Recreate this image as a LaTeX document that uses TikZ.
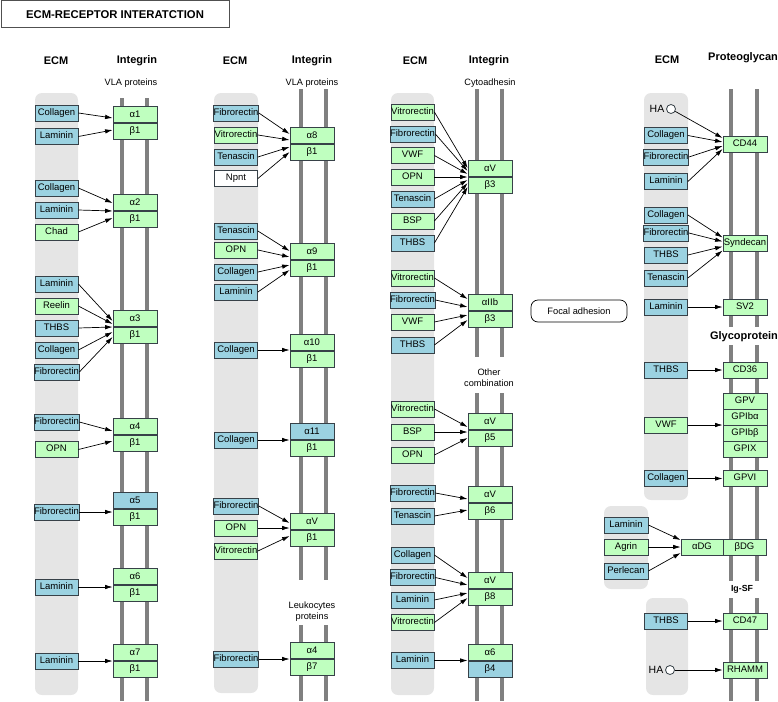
\documentclass[tikz,border=0pt]{standalone}
\usepackage{fontspec}
\setmainfont{Liberation Sans}
\usetikzlibrary{arrows.meta,calc}
\definecolor{kblue}{RGB}{155,210,225}
\definecolor{kgreen}{RGB}{191,255,191}
\definecolor{kborder}{RGB}{55,65,72}
\definecolor{kmem}{RGB}{128,128,128}
\definecolor{kbg}{RGB}{229,229,229}
\newcommand\kLig[5]{\node[lig,#2] (#1) at (#3,#4) {#5};}
\newcommand\kPair[7]{%
  \node[ibox,#6,anchor=south] (#1a) at (#2,#3) {#4};
  \node[ibox,#7,anchor=north] (#1b) at (#2,#3) {#5};}
\newcommand\kCon[3]{\draw[arr] (#1.east) -- ([yshift=#3pt]#2.south west);}
\newcommand\kConW[3]{\draw[arr] (#1.east) -- ([yshift=#3pt]#2.west);}
\newcommand\kH[2]{\draw[arr] (#1.east) -- (#1.east -| #2.west);}
\begin{document}
\begin{tikzpicture}[x=1pt,y=-1pt,
  lig/.style={draw=kborder,line width=0.8pt,minimum width=43pt,minimum height=16pt,
    inner sep=0pt,font=\fontsize{9.5}{10}\selectfont,text height=6.8pt,text depth=1.9pt},
  ibox/.style={lig,minimum width=44pt},
  bl/.style={fill=kblue}, gr/.style={fill=kgreen}, wh/.style={fill=white},
  arr/.style={-{Latex[length=7.5pt,width=4.5pt]},line width=0.7pt,black},
  mem/.style={draw=kmem,line width=4pt},
  bgr/.style={fill=kbg,rounded corners=7pt},
  hdr/.style={font=\bfseries\fontsize{11}{12}\selectfont},
  sub/.style={font=\fontsize{9.2}{10.5}\selectfont,align=center}]
\useasboundingbox (0,0) rectangle (778,701);
% title
\node[draw={rgb,255:red,80;green,80;blue,80},line width=1pt,minimum width=228pt,minimum height=26.5pt,
  anchor=north west,font=\bfseries\fontsize{11.3}{13}\selectfont,inner sep=0pt] (title) at (0.5,0.5) {ECM-RECEPTOR INTERATCTION};
% backgrounds
\fill[bgr] (35,93) rectangle (78,695);
\fill[bgr] (214,93) rectangle (258,693);
\fill[bgr] (391,93) rectangle (434,695);
\fill[bgr] (644,93) rectangle (688,500);
\fill[bgr] (604,506) rectangle (648,589);
\fill[bgr] (646,598) rectangle (688,695);
% membranes
\draw[mem] (122,98) -- (122,701); \draw[mem] (147,98) -- (147,701);
\draw[mem] (301,89) -- (301,580); \draw[mem] (326,89) -- (326,580);
\draw[mem] (301,625) -- (301,701); \draw[mem] (326,625) -- (326,701);
\draw[mem] (477,89) -- (477,357); \draw[mem] (502,89) -- (502,357);
\draw[mem] (477,393) -- (477,701); \draw[mem] (502,393) -- (502,701);
\draw[mem] (731,89) -- (731,327); \draw[mem] (757,89) -- (757,327);
\draw[mem] (731,345) -- (731,581); \draw[mem] (757,345) -- (757,581);
\draw[mem] (731,598) -- (731,701); \draw[mem] (757,598) -- (757,701);
% headers
\node[hdr] (h1) at (56,61) {ECM};
\node[hdr] (h2) at (137,61) {Integrin};
\node[sub] (s1) at (131,83) {VLA proteins};
\node[hdr] (h3) at (235,61) {ECM};
\node[hdr] (h4) at (312,61) {Integrin};
\node[sub] (s2) at (312,83) {VLA proteins};
\node[hdr] (h5) at (415,61) {ECM};
\node[hdr] (h6) at (489,61) {Integrin};
\node[sub] (s3) at (490,83) {Cytoadhesin};
\node[sub] (s4) at (489,377.5) {Other\\combination};
\node[sub] (s5) at (312,611.5) {Leukocytes\\proteins};
\node[hdr] (h7) at (667,60) {ECM};
\node[hdr] (h8) at (743,58) {Proteoglycan};
\node[hdr] (h9) at (744,337) {Glycoprotein};
\node[font=\bfseries\fontsize{8.8}{10}\selectfont] (h10) at (742,589) {Ig-SF};
\node[draw=black,line width=0.7pt,rounded corners=7pt,minimum width=96pt,minimum height=22pt,
  inner sep=0pt,font=\fontsize{9.3}{10}\selectfont] (focal) at (579,311) {Focal adhesion};
% ===== column 1 =====
\kPair{i1}{135}{123}{α1}{β1}{gr}{gr}
\kLig{a1}{bl}{56.5}{113}{Collagen}
\kLig{a2}{bl}{56.5}{136.5}{Laminin}
\kCon{a1}{i1a}{5} \kCon{a2}{i1a}{-7}
\kPair{i2}{135}{211}{α2}{β1}{gr}{gr}
\kLig{b1}{bl}{56.5}{188}{Collagen}
\kLig{b2}{bl}{56.5}{210}{Laminin}
\kLig{b3}{gr}{56.5}{232}{Chad}
\kCon{b1}{i2a}{8} \kCon{b2}{i2a}{0} \kCon{b3}{i2a}{-7}
\kPair{i3}{135}{327}{α3}{β1}{gr}{gr}
\kLig{c1}{bl}{56.5}{284}{Laminin}
\kLig{c2}{gr}{56.5}{306}{Reelin}
\kLig{c3}{bl}{56.5}{328}{THBS}
\kLig{c4}{bl}{56.5}{350}{Collagen}
\kLig{c5}{bl}{56.5}{372}{Fibrorectin}
\kCon{c1}{i3a}{6} \kCon{c2}{i3a}{3} \kCon{c3}{i3a}{0} \kCon{c4}{i3a}{-5} \kCon{c5}{i3a}{-10}
\kPair{i4}{135}{435}{α4}{β1}{gr}{gr}
\kLig{d1}{bl}{56.5}{422}{Fibrorectin}
\kLig{d2}{gr}{56.5}{449.5}{OPN}
\kCon{d1}{i4a}{4} \kCon{d2}{i4a}{-6}
\kPair{i5}{135}{509}{α5}{β1}{bl}{gr}
\kLig{e1}{bl}{56.5}{512}{Fibrorectin}
\kH{e1}{i5a}
\kPair{i6}{135}{585}{α6}{β1}{gr}{gr}
\kLig{f1}{bl}{56.5}{587}{Laminin}
\kH{f1}{i6a}
\kPair{i7}{135}{661}{α7}{β1}{gr}{gr}
\kLig{g1}{bl}{56.5}{661}{Laminin}
\kH{g1}{i7a}
% ===== column 2 =====
\kPair{i8}{312}{144}{α8}{β1}{gr}{gr}
\kLig{m1}{bl}{236}{113}{Fibrorectin}
\kLig{m2}{gr}{236}{135}{Vitrorectin}
\kLig{m3}{bl}{236}{157}{Tenascin}
\kLig{m4}{wh}{236}{178.5}{Npnt}
\kCon{m1}{i8a}{10} \kCon{m2}{i8a}{4} \kCon{m3}{i8a}{-3} \kCon{m4}{i8a}{-8}
\kPair{i9}{312}{260}{α9}{β1}{gr}{gr}
\kLig{n1}{bl}{236}{231}{Tenascin}
\kLig{n2}{gr}{236}{250}{OPN}
\kLig{n3}{bl}{236}{272}{Collagen}
\kLig{n4}{bl}{236}{292}{Laminin}
\kCon{n1}{i9a}{9} \kCon{n2}{i9a}{3} \kCon{n3}{i9a}{-5} \kCon{n4}{i9a}{-10}
\kPair{i10}{312}{351}{α10}{β1}{gr}{gr}
\kLig{o1}{bl}{236}{350}{Collagen}
\kH{o1}{i10a}
\kPair{i11}{312}{440}{α11}{β1}{bl}{gr}
\kLig{p1}{bl}{236}{440}{Collagen}
\kH{p1}{i11a}
\kPair{iv}{312}{530}{αV}{β1}{gr}{gr}
\kLig{q1}{bl}{236}{506}{Fibrorectin}
\kLig{q2}{gr}{236}{528}{OPN}
\kLig{q3}{gr}{236}{551}{Vitrorectin}
\kCon{q1}{iva}{7} \kH{q2}{iva} \kCon{q3}{iva}{-6}
\kPair{ik}{312}{659}{α4}{β7}{gr}{gr}
\kLig{r1}{bl}{236}{659}{Fibrorectin}
\kH{r1}{ika}
% ===== column 3 =====
\kPair{j3}{490}{177}{αV}{β3}{gr}{gr}
\kLig{t1}{gr}{412.5}{112}{Vitrorectin}
\kLig{t2}{bl}{412.5}{134}{Fibrorectin}
\kLig{t3}{gr}{412.5}{155.5}{VWF}
\kLig{t4}{gr}{412.5}{177}{OPN}
\kLig{t5}{bl}{412.5}{199}{Tenascin}
\kLig{t6}{gr}{412.5}{221}{BSP}
\kLig{t7}{bl}{412.5}{243}{THBS}
\kCon{t1}{j3a}{9} \kCon{t2}{j3a}{6} \kCon{t3}{j3a}{3} \kCon{t4}{j3a}{0}
\kCon{t5}{j3a}{-3} \kCon{t6}{j3a}{-6} \kCon{t7}{j3a}{-10}
\kPair{jb}{490}{311}{αIIb}{β3}{gr}{gr}
\kLig{u1}{gr}{412.5}{278}{Vitrorectin}
\kLig{u2}{bl}{412.5}{300}{Fibrorectin}
\kLig{u3}{gr}{412.5}{322}{VWF}
\kLig{u4}{bl}{412.5}{345}{THBS}
\kCon{u1}{jba}{12} \kCon{u2}{jba}{4} \kCon{u3}{jba}{-4} \kCon{u4}{jba}{-9}
\kPair{j5}{490}{430}{αV}{β5}{gr}{gr}
\kLig{v1}{gr}{412.5}{409}{Vitrorectin}
\kLig{v2}{gr}{412.5}{432}{BSP}
\kLig{v3}{gr}{412.5}{455}{OPN}
\kCon{v1}{j5a}{3} \kH{v2}{j5a} \kCon{v3}{j5a}{-8}
\kPair{j6}{490}{503}{αV}{β6}{gr}{gr}
\kLig{w1}{bl}{412.5}{493}{Fibrorectin}
\kLig{w2}{bl}{412.5}{516}{Tenascin}
\kCon{w1}{j6a}{4} \kCon{w2}{j6a}{-7}
\kPair{j8}{490}{589}{αV}{β8}{gr}{gr}
\kLig{x1}{bl}{412.5}{555}{Collagen}
\kLig{x2}{bl}{412.5}{577.5}{Fibrorectin}
\kLig{x3}{bl}{412.5}{600}{Laminin}
\kLig{x4}{gr}{412.5}{622.5}{Vitrorectin}
\kCon{x1}{j8a}{11} \kCon{x2}{j8a}{4} \kCon{x3}{j8a}{-4} \kCon{x4}{j8a}{-9}
\kPair{j4}{490}{661}{α6}{β4}{gr}{bl}
\kLig{y1}{bl}{412.5}{660.5}{Laminin}
\kH{y1}{j4a}
% ===== column 4 =====
\node[lig,gr,minimum width=44pt] (cd44) at (745,144) {CD44};
\node[circle,draw=kborder,fill=white,line width=0.8pt,minimum size=9pt,inner sep=0pt] (ha1) at (671,109) {};
\node[font=\fontsize{10.5}{11}\selectfont,inner sep=0pt] (ha1t) at (657,109) {HA};
\kLig{k1}{bl}{666}{135.5}{Collagen}
\kLig{k2}{bl}{666}{157}{Fibrorectin}
\kLig{k3}{bl}{666}{181.5}{Laminin}
\draw[arr] (ha1) -- ([yshift=6pt]cd44.west);
\kConW{k1}{cd44}{2} \kConW{k2}{cd44}{-2} \kConW{k3}{cd44}{-5}
\node[lig,gr,minimum width=44pt] (synd) at (745,243.5) {Syndecan};
\kLig{s1l}{bl}{666}{215}{Collagen}
\kLig{s2l}{bl}{666}{233}{Fibrorectin}
\kLig{s3l}{bl}{666}{255}{THBS}
\kLig{s4l}{bl}{666}{278}{Tenascin}
\kConW{s1l}{synd}{6} \kConW{s2l}{synd}{2} \kConW{s3l}{synd}{-3} \kConW{s4l}{synd}{-7}
\node[lig,gr,minimum width=44pt] (sv2) at (745,307) {SV2};
\kLig{sv2l}{bl}{666}{307}{Laminin}
\kH{sv2l}{sv2}
\node[lig,gr,minimum width=44pt] (cd36) at (745,370) {CD36};
\kLig{cd36l}{bl}{666}{370}{THBS}
\kH{cd36l}{cd36}
\node[lig,gr,minimum width=44pt] (gpv) at (745,401) {GPV};
\node[lig,gr,minimum width=44pt] (gpiba) at (745,417) {GPIbα};
\node[lig,gr,minimum width=44pt] (gpibb) at (745,433) {GPIbβ};
\node[lig,gr,minimum width=44pt] (gpix) at (745,449) {GPIX};
\kLig{vwfl}{gr}{666}{425}{VWF}
\kH{vwfl}{gpiba}
\node[lig,gr,minimum width=44pt] (gpvi) at (745,478.5) {GPVI};
\kLig{gpvil}{bl}{666}{478.5}{Collagen}
\kH{gpvil}{gpvi}
\node[lig,gr,minimum width=42pt] (adg) at (702,547) {αDG};
\node[lig,gr,minimum width=43pt] (bdg) at (744.5,547) {βDG};
\node[lig,bl,minimum width=44pt] (dg1) at (626,525) {Laminin};
\node[lig,gr,minimum width=44pt] (dg2) at (626,547) {Agrin};
\node[lig,bl,minimum width=44pt] (dg3) at (626,571) {Perlecan};
\kConW{dg1}{adg}{7} \kH{dg2}{adg} \kConW{dg3}{adg}{-6}
\node[lig,gr,minimum width=44pt] (cd47) at (745,621) {CD47};
\kLig{cd47l}{bl}{666}{621}{THBS}
\kH{cd47l}{cd47}
\node[lig,gr,minimum width=44pt] (rhamm) at (745,670) {RHAMM};
\node[circle,draw=kborder,fill=white,line width=0.8pt,minimum size=9pt,inner sep=0pt] (ha2) at (670,670) {};
\node[font=\fontsize{10.5}{11}\selectfont,inner sep=0pt] (ha2t) at (656,670) {HA};
\draw[arr] (ha2.east) -- (ha2.east -| rhamm.west);
\end{tikzpicture}
\end{document}
